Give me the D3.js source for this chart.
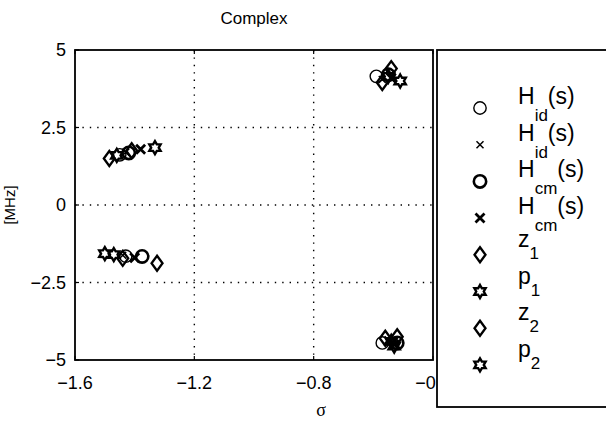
<!DOCTYPE html>
<html>
<head>
<meta charset="utf-8">
<script src="https://cdn.jsdelivr.net/npm/d3@7"></script>
<style>
  body { margin: 0; background: #fff; }
  svg { display: block; font-family: "Liberation Sans", Arial, sans-serif; }
</style>
</head>
<body>
<svg id="chart" width="606" height="423"></svg>
<script>
// axis ticks
const xTicks = [-1.6, -1.2, -0.8, -0.4];
const yTicks = [5, 2.5, 0, -2.5, -5];

// pole / zero locations  [sigma, MHz]
const hidZeros = [[-1.45, 1.62], [-1.43, -1.65], [-0.59, 4.15], [-0.57, -4.45]];
const hidPoles = [[-1.43, 1.70], [-1.44, -1.62], [-0.57, 4.05], [-0.55, -4.35]];
const hcmZeros = [[-1.42, 1.68], [-1.375, -1.66], [-0.55, 4.20], [-0.52, -4.45]];
const hcmPoles = [[-1.38, 1.80], [-1.40, -1.70], [-0.54, 4.10], [-0.53, -4.50]];
const z1 = [[-1.485, 1.50], [-1.44, -1.72], [-0.57, 3.95], [-0.56, -4.30]];
const p1 = [[-1.46, 1.60], [-1.50, -1.57], [-0.55, 4.15], [-0.54, -4.40]];
const z2 = [[-1.41, 1.75], [-1.325, -1.88], [-0.54, 4.40], [-0.52, -4.25]];
const p2 = [[-1.332, 1.85], [-1.47, -1.60], [-0.51, 4.00], [-0.53, -4.55]];

const labelBase = ["H", "H", "H", "H", "z", "p", "z", "p"];
const labelSub = ["id", "id", "cm", "cm", "1", "1", "2", "2"];
const labelTail = ["(s)", "(s)", "(s)", "(s)", "", "", "", ""];
const markers = ["circle", "x", "circleBold", "xBold", "diamond", "hexagram", "diamond", "hexagram"];

const series = [hidZeros, hidPoles, hcmZeros, hcmPoles, z1, p1, z2, p2].map((pts, i) => ({
  pts, marker: markers[i], base: labelBase[i], sub: labelSub[i], tail: labelTail[i]
}));

const svg = d3.select("#chart");
const m = { left: 75, right: 433, top: 50, bottom: 360 };

const x = d3.scaleLinear().domain([-1.6, -0.4]).range([m.left, m.right]);
const y = d3.scaleLinear().domain([-5, 5]).range([m.bottom, m.top]);

const fmt = v => (v < 0 ? "\u2212" : "") + Math.abs(v);

// grid
svg.append("g").selectAll("line")
  .data(xTicks.slice(1, -1))
  .enter().append("line")
  .attr("x1", d => x(d)).attr("x2", d => x(d))
  .attr("y1", m.top).attr("y2", m.bottom)
  .attr("stroke", "#000").attr("stroke-width", 1.4)
  .attr("stroke-dasharray", "1.4,6");

svg.append("g").selectAll("line")
  .data(yTicks.slice(1, -1))
  .enter().append("line")
  .attr("x1", m.left).attr("x2", m.right)
  .attr("y1", d => y(d)).attr("y2", d => y(d))
  .attr("stroke", "#000").attr("stroke-width", 1.4)
  .attr("stroke-dasharray", "1.4,6");

// frame
svg.append("rect")
  .attr("x", m.left).attr("y", m.top)
  .attr("width", m.right - m.left).attr("height", m.bottom - m.top)
  .attr("fill", "none").attr("stroke", "#000").attr("stroke-width", 1.8);

// tick marks (inward)
xTicks.forEach(t => {
  svg.append("line").attr("x1", x(t)).attr("x2", x(t)).attr("y1", m.bottom).attr("y2", m.bottom - 4)
    .attr("stroke", "#000").attr("stroke-width", 1.2);
  svg.append("line").attr("x1", x(t)).attr("x2", x(t)).attr("y1", m.top).attr("y2", m.top + 4)
    .attr("stroke", "#000").attr("stroke-width", 1.2);
});
yTicks.forEach(t => {
  svg.append("line").attr("x1", m.left).attr("x2", m.left + 4).attr("y1", y(t)).attr("y2", y(t))
    .attr("stroke", "#000").attr("stroke-width", 1.2);
});

// tick labels
svg.append("g").selectAll("text")
  .data(xTicks)
  .enter().append("text")
  .attr("x", d => x(d)).attr("y", m.bottom + 29)
  .attr("text-anchor", "middle")
  .attr("font-size", 18)
  .text(fmt);

svg.append("g").selectAll("text")
  .data(yTicks)
  .enter().append("text")
  .attr("x", m.left - 9).attr("y", d => y(d) + 6)
  .attr("text-anchor", "end")
  .attr("font-size", 18)
  .text(fmt);

// titles
svg.append("text").attr("x", (m.left + m.right) / 2).attr("y", 24)
  .attr("text-anchor", "middle").attr("font-size", 17).text("Complex");
svg.append("text").attr("x", 321).attr("y", 416)
  .attr("text-anchor", "middle").attr("font-size", 18)
  .attr("font-family", "'Liberation Serif', serif").text("\u03c3");
svg.append("text")
  .attr("transform", `translate(15,${(m.top + m.bottom) / 2}) rotate(-90)`)
  .attr("text-anchor", "middle").attr("font-size", 15).text("[MHz]");

// marker shapes
function hexagram(r) {
  const pts = [];
  for (let k = 0; k < 12; k++) {
    const a = -Math.PI / 2 + k * Math.PI / 6;
    const rr = k % 2 === 0 ? r : r * 0.58;
    pts.push([rr * Math.cos(a), rr * Math.sin(a)]);
  }
  return "M" + pts.map(p => p.join(",")).join("L") + "Z";
}
const shapes = {
  circle: { d: d3.symbol(d3.symbolCircle, 120)(), w: 1.4 },
  circleBold: { d: d3.symbol(d3.symbolCircle, 120)(), w: 2.6 },
  x: { d: "M-3.5,-3.5L3.5,3.5M-3.5,3.5L3.5,-3.5", w: 1.5 },
  xBold: { d: "M-4.5,-4.5L4.5,4.5M-4.5,4.5L4.5,-4.5", w: 2.8 },
  diamond: { d: "M0,-7.5L5.5,0L0,7.5L-5.5,0Z", w: 2.3 },
  hexagram: { d: hexagram(6.5), w: 2.4 }
};

// data marks
series.forEach(s => {
  svg.append("g").selectAll("path")
    .data(s.pts)
    .enter().append("path")
    .attr("transform", d => `translate(${x(d[0])},${y(d[1])})`)
    .attr("d", shapes[s.marker].d)
    .attr("fill", "none")
    .attr("stroke", "#000")
    .attr("stroke-width", shapes[s.marker].w);
});

// legend
const legend = svg.append("g");
legend.append("rect")
  .attr("x", 437).attr("y", m.top).attr("width", 200).attr("height", 407 - m.top)
  .attr("fill", "#fff").attr("stroke", "#000").attr("stroke-width", 1.8);

series.forEach((s, i) => {
  const my = 108 + i * 36.7;
  legend.append("path")
    .attr("transform", `translate(480,${my})`)
    .attr("d", shapes[s.marker].d)
    .attr("fill", "none").attr("stroke", "#000")
    .attr("stroke-width", shapes[s.marker].w);
  const isH = s.base === "H";
  const t = legend.append("text")
    .attr("x", 518).attr("y", isH ? my - 4 : my - 8)
    .attr("font-size", 23);
  t.append("tspan").text(s.base);
  t.append("tspan").attr("dy", isH ? 17 : 12).attr("font-size", 17).text(s.sub);
  if (s.tail) t.append("tspan").attr("dy", -17).text(s.tail);
});
</script>
</body>
</html>
